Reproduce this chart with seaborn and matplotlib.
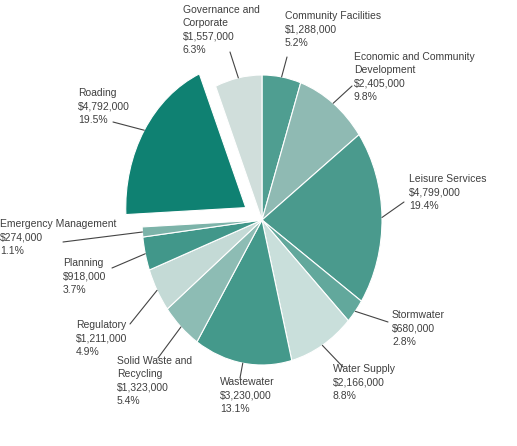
import numpy as np
import matplotlib
matplotlib.use("Agg")
import matplotlib.pyplot as plt
import seaborn as sns

sns.set_theme(style="white")
plt.rcParams["font.family"] = ["Liberation Sans", "DejaVu Sans"]

# Budget by activity, clockwise from 12 o'clock
activities = ["Community Facilities", "Economic and Community\nDevelopment", "Leisure Services",
              "Stormwater", "Water Supply", "Wastewater", "Solid Waste and\nRecycling",
              "Regulatory", "Planning", "Emergency Management", "Roading",
              "Governance and\nCorporate"]
amounts = [1288000, 2405000, 4799000, 680000, 2166000, 3230000, 1323000,
           1211000, 918000, 274000, 4792000, 1557000]
percent_labels = ["5.2%", "9.8%", "19.4%", "2.8%", "8.8%", "13.1%", "5.4%",
                  "4.9%", "3.7%", "1.1%", "19.5%", "6.3%"]
colors = ["#4f9e91", "#8fbab3", "#4a9a8d", "#62a89c", "#c9dfdb", "#44998b",
          "#8dbcb4", "#c4dad6", "#41978a", "#7cb3a9", "#0f8172", "#d0dedb"]
explode = [0, 0, 0, 0, 0, 0, 0, 0, 0, 0, 0.16, 0]

W, H = 517, 446
cx, cy = 262, 220          # pie centre (px, from top)
rx, ry = 120, 145          # horizontal / vertical radius (px)

fig = plt.figure(figsize=(W / 100, H / 100), dpi=100)
ax = fig.add_axes([0, 0, 1, 1])
wedges, _ = ax.pie(amounts, colors=colors, startangle=90, counterclock=False,
                   explode=explode, radius=1.0,
                   wedgeprops=dict(edgecolor="white", linewidth=0.8))
ax.set_aspect("auto")
ax.set_xlim(-cx / rx, (W - cx) / rx)
ax.set_ylim(-(H - cy) / ry, cy / ry)
ax.axis("off")


def px(x, y):
    """pixel position (from top-left) -> data coordinates"""
    return (x - cx) / rx, (cy - y) / ry


# label block top-left and leader-line start (px)
label_pos = [(285, 11), (354, 52), (409, 174), (392, 310), (333, 364), (220, 377),
             (117, 356), (76, 320), (63, 258), (0, 219), (78, 88), (183, 5)]
line_start = [(287, 57), (352, 86), (404, 202), (388, 322), (343, 367), (240, 378),
              (158, 358), (130, 324), (112, 268), (63, 242), (113, 122), (230, 52)]

for w, name, amt, pct, (lx, ly), (sx, sy) in zip(wedges, activities, amounts,
                                               percent_labels, label_pos, line_start):
    txt = f"{name}\n${amt:,.0f}\n{pct}"
    tx, ty = px(lx, ly)
    ax.text(tx, ty, txt, ha="left", va="top", fontsize=7.5, color="#3f3f3f",
            linespacing=1.42)
    mid = np.deg2rad((w.theta1 + w.theta2) / 2)
    ox, oy = w.center
    ex, ey = ox + np.cos(mid) * 1.0, oy + np.sin(mid) * 1.0
    x0, y0 = px(sx, sy)
    ax.plot([x0, ex], [y0, ey], color="#444444", lw=0.8)

fig.savefig("out.png", dpi=100)
